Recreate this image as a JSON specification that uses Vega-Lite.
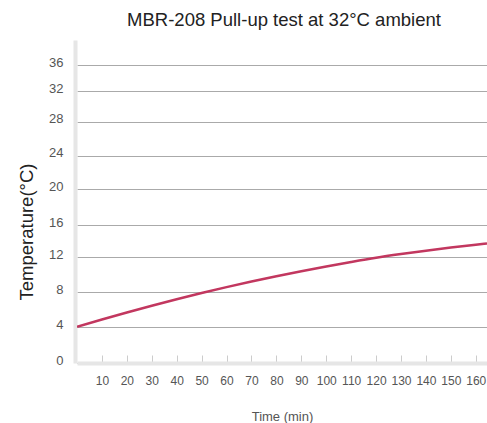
{
  "$schema": "https://vega.github.io/schema/vega-lite/v6.json",
  "autosize": {"type": "none"},
  "padding": {"left": 77, "top": 40, "right": 0, "bottom": 60},
  "width": 410,
  "height": 323,
  "background": "white",
  "title": {
    "text": "MBR-208 Pull-up test at 32°C ambient",
    "font": "Liberation Sans",
    "fontSize": 18.5,
    "fontWeight": "normal",
    "color": "#222222",
    "anchor": "middle",
    "baseline": "alphabetic",
    "offset": 15,
    "dy": 19,
    "dx": 2
  },
  "config": {
    "view": {"stroke": null},
    "font": "Liberation Sans"
  },
  "data": {
    "values": [
      {"time": 0, "temp": 4.07},
      {"time": 10, "temp": 4.9},
      {"time": 20, "temp": 5.7},
      {"time": 30, "temp": 6.47},
      {"time": 40, "temp": 7.21},
      {"time": 50, "temp": 7.91},
      {"time": 60, "temp": 8.59},
      {"time": 70, "temp": 9.23},
      {"time": 80, "temp": 9.84},
      {"time": 90, "temp": 10.41},
      {"time": 100, "temp": 10.96},
      {"time": 110, "temp": 11.47},
      {"time": 120, "temp": 11.95},
      {"time": 130, "temp": 12.4},
      {"time": 140, "temp": 12.82},
      {"time": 150, "temp": 13.2},
      {"time": 160, "temp": 13.56},
      {"time": 164.5, "temp": 13.71}
    ]
  },
  "mark": {"type": "line", "color": "#c2375f", "strokeWidth": 2.5, "interpolate": "monotone", "clip": true},
  "encoding": {
    "x": {
      "field": "time",
      "type": "quantitative",
      "scale": {"domain": [0, 164.5], "nice": false, "zero": false},
      "axis": {
        "title": "Time (min)",
        "titleFont": "Liberation Sans",
        "titleFontSize": 13,
        "titleFontWeight": "normal",
        "titleColor": "#555555",
        "titlePadding": 24,
        "values": [10, 20, 30, 40, 50, 60, 70, 80, 90, 100, 110, 120, 130, 140, 150, 160],
        "grid": false,
        "domainColor": "#e6e6e6",
        "domainWidth": 4,
        "tickColor": "#cccccc",
        "tickWidth": 1,
        "tickSize": -8,
        "labelFontSize": 12,
        "labelColor": "#555555",
        "labelPadding": 20
      }
    },
    "y": {
      "field": "temp",
      "type": "quantitative",
      "scale": {
        "domain": [0, 4, 8, 12, 16, 20, 24, 28, 32, 36, 40],
        "range": [323, 287.3, 252.3, 217.3, 185, 149, 115.7, 81.7, 51, 25, 0],
        "nice": false,
        "zero": false
      },
      "axis": {
        "title": "Temperature(°C)",
        "titleFont": "Liberation Sans",
        "titleFontSize": 18.5,
        "titleFontWeight": "normal",
        "titleColor": "#222222",
        "titleAngle": -90,
        "titleBaseline": "middle",
        "titleAlign": "center",
        "titleX": -49,
        "titleY": 191.5,
        "values": [0, 4, 8, 12, 16, 20, 24, 28, 32, 36],
        "grid": true,
        "gridColor": "#aaaaaa",
        "gridWidth": 1,
        "ticks": false,
        "offset": 2,
        "domainColor": "#e6e6e6",
        "domainWidth": 4,
        "labelFontSize": 13,
        "labelColor": "#555555",
        "labelPadding": 12,
        "labelOffset": -3
      }
    }
  }
}
